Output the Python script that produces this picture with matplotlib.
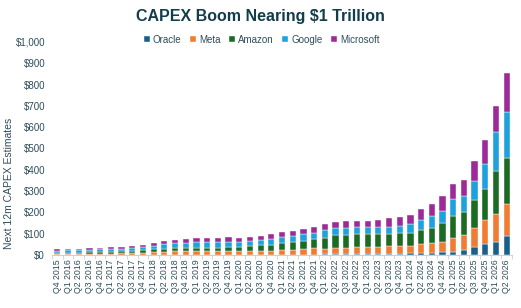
import matplotlib
matplotlib.use('Agg')
import matplotlib.pyplot as plt
import numpy as np

plt.rcParams['font.family'] = ['Liberation Sans', 'DejaVu Sans']

# quarter labels, Q4 2015 .. Q2 2026
quarters = ['Q4 2015'] + ['Q%d %d' % (q, y) for y in range(2016, 2026) for q in range(1, 5)] + ['Q1 2026', 'Q2 2026']

# next 12m capex estimates, $bn
oracle = [1, 1, 1, 1, 1, 1, 1, 1, 1, 1, 1, 1, 1, 1, 1, 1, 1, 1, 1, 1, 1, 1,
          2, 2, 2, 3, 3, 3, 4, 4, 4, 6, 6, 8, 10, 11, 13, 16, 24, 38, 53, 63, 91]
meta = [3, 4, 4, 5, 5, 6, 7, 8, 9, 12, 15, 16, 16, 18, 18, 17, 17, 17, 17, 17, 20, 22,
        23, 25, 29, 27, 28, 30, 34, 33, 33, 35, 35, 36, 42, 44, 50, 63, 71, 91, 112, 129, 150]
amazon = [6, 6, 6, 7, 8, 9, 9, 10, 12, 13, 14, 14, 15, 16, 14, 16, 18, 19, 22, 27, 28, 34,
          38, 40, 42, 52, 61, 61, 60, 61, 61, 59, 61, 61, 66, 71, 87, 105, 108, 127, 145, 204, 212]
google = [11, 11, 11, 11, 12, 13, 13, 14, 16, 18, 22, 24, 26, 27, 28, 28, 27, 26, 24, 25, 25, 27,
          27, 30, 30, 35, 36, 35, 34, 32, 33, 33, 35, 41, 48, 58, 58, 79, 75, 93, 119, 183, 218]
microsoft = [6, 6, 6, 7, 7, 8, 8, 9, 11, 11, 14, 15, 16, 17, 17, 19, 20, 17, 19, 19, 23, 22,
             24, 27, 28, 28, 27, 31, 28, 28, 32, 40, 42, 44, 52, 57, 68, 68, 72, 91, 109, 121, 183]

names = ['Oracle', 'Meta', 'Amazon', 'Google', 'Microsoft']
colors = ['#1a5f8c', '#f07b33', '#1c6b24', '#1ea1dc', '#9c2a98']

fig = plt.figure(figsize=(5.21, 3.08), dpi=100)
ax = fig.add_axes([0.0998, 0.172, 0.883, 0.692])

x = np.arange(len(quarters))
bottom = np.zeros(len(quarters))
for name, vals, c in zip(names, [oracle, meta, amazon, google, microsoft], colors):
    ax.bar(x, vals, 0.58, bottom=bottom, color=c, label=name,
           edgecolor='white', linewidth=0.3)
    bottom += np.array(vals)

txt = '#2e4d5c'
ax.set_xlim(-0.5, len(quarters) - 0.5)
ax.set_ylim(0, 1000)
ax.set_yticks(range(0, 1001, 100))
ax.set_yticklabels(['\\$%s' % format(v, ',') for v in range(0, 1001, 100)], fontsize=7, color=txt)
ax.set_xticks(x)
ax.set_xticklabels(quarters, rotation=90, fontsize=6.3, color=txt)
ax.set_xticks(np.arange(-0.5, len(quarters), 1), minor=True)
ax.tick_params(axis='x', which='major', length=0, pad=3)
ax.tick_params(axis='x', which='minor', length=3, color='#d0d0d0', width=0.6)
ax.tick_params(axis='y', length=0, pad=5)
for s in ['top', 'right', 'left']:
    ax.spines[s].set_visible(False)
ax.spines['bottom'].set_color('#d0d0d0')
ax.spines['bottom'].set_linewidth(0.8)

ax.set_ylabel('Next 12m CAPEX Estimates', fontsize=7.5, color=txt)
ax.yaxis.set_label_coords(-0.083, 0.338)

fig.text(0.5, 0.945, 'CAPEX Boom Nearing \\$1 Trillion', ha='center', va='center',
         fontsize=11.5, fontweight='bold', color='#123d4c')
leg = ax.legend(loc='center', bbox_to_anchor=(0.456, 1.01), ncol=5, frameon=False,
                fontsize=7, handlelength=0.6, handleheight=0.6, handletextpad=0.3,
                columnspacing=0.9, labelcolor=txt)

fig.savefig('out.png', dpi=100)
